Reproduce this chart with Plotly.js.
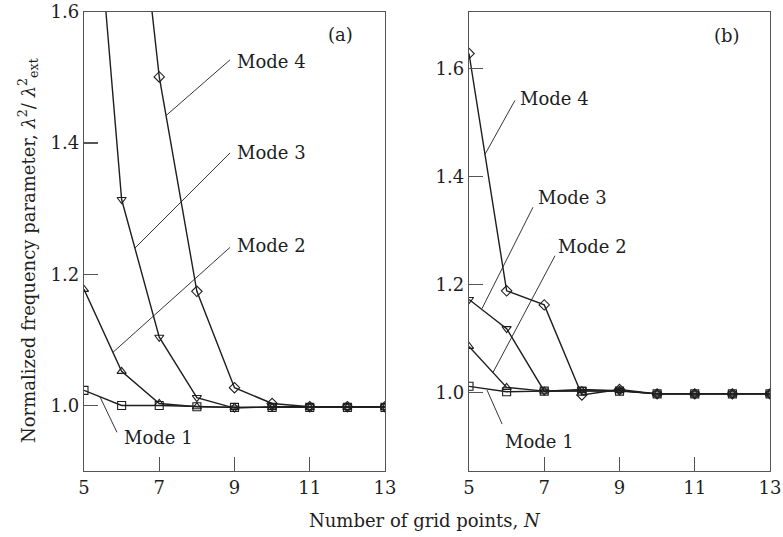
<!DOCTYPE html>
<html><head><meta charset="utf-8">
<script src="https://cdn.plot.ly/plotly-3.0.1.min.js"></script>
<style>html,body{margin:0;padding:0;background:#fff}#plot{width:783px;height:537px}</style>
</head><body><div id="plot"></div>
<script>
// Grid points N
const N = [5, 6, 7, 8, 9, 10, 11, 12, 13];
// Panel (a) normalized frequency parameter
const a_mode1 = [1.023, 1.000, 1.000, 0.998, 0.997, 0.997, 0.997, 0.997, 0.997];
const a_mode2 = [1.177, 1.052, 1.003, 0.998, 0.997, 0.997, 0.997, 0.997, 0.997];
const a_mode3 = [2.000, 1.314, 1.104, 1.012, 0.996, 0.998, 0.998, 0.998, 0.998];
const a_mode4 = [2.600, 2.020, 1.501, 1.174, 1.027, 1.003, 0.998, 0.998, 0.998];
// Panel (b)
const b_mode1 = [1.011, 1.001, 1.002, 1.002, 1.002, 0.997, 0.997, 0.997, 0.997];
const b_mode2 = [1.085, 1.009, 1.002, 1.003, 1.003, 0.997, 0.997, 0.997, 0.997];
const b_mode3 = [1.172, 1.118, 1.002, 1.005, 1.003, 0.997, 0.997, 0.997, 0.997];
const b_mode4 = [1.628, 1.188, 1.162, 0.995, 1.005, 0.997, 0.997, 0.997, 0.997];
const modeNames = ['Mode 1', 'Mode 2', 'Mode 3', 'Mode 4'];
const symbols = ['square-open', 'triangle-up-open', 'triangle-down-open', 'diamond-open'];
const xTicks = [5, 7, 9, 11, 13];
const yTicks = [1.0, 1.2, 1.4, 1.6];

const FONT = 'DejaVu Serif, serif';
const INK = '#1e1e1e';

function series(ys, i, xa, ya) {
  return {
    x: N, y: ys, xaxis: xa, yaxis: ya, mode: 'lines+markers', name: modeNames[i],
    line: {color: INK, width: 1.4},
    marker: {symbol: symbols[i], size: 8, color: INK, line: {width: 1.1, color: INK}},
    showlegend: false, cliponaxis: true
  };
}
const traces = [];
[a_mode1, a_mode2, a_mode3, a_mode4].forEach((d, i) => traces.push(series(d, i, 'x', 'y')));
[b_mode1, b_mode2, b_mode3, b_mode4].forEach((d, i) => traces.push(series(d, i, 'x2', 'y2')));

const yDom = [1 - 471 / 537, 1 - 12 / 537];
function xax(dom, anchor) {
  return {domain: dom, range: [5, 13], anchor: anchor, tickvals: xTicks, ticktext: xTicks.map(String),
    ticks: 'inside', ticklen: 14, tickwidth: 1.3, tickcolor: '#555',
    showline: true, mirror: true, linecolor: '#555', linewidth: 1.3,
    showgrid: false, zeroline: false, fixedrange: true,
    tickfont: {family: FONT, size: 18, color: INK}};
}
function yax(range, anchor) {
  return {domain: yDom, range: range, anchor: anchor, tickvals: yTicks, ticktext: yTicks.map(v => v.toFixed(1)),
    ticks: 'inside', ticklen: 14, tickwidth: 1.3, tickcolor: '#555',
    showline: true, mirror: true, linecolor: '#555', linewidth: 1.3,
    showgrid: false, zeroline: false, fixedrange: true,
    tickfont: {family: FONT, size: 18, color: INK}};
}

// leader lines [xref, yref, x0, y0, x1, y1]
const leaders = [
  ['x', 'y', 7.18, 1.442, 8.88, 1.527],
  ['x', 'y', 6.355, 1.240, 8.88, 1.385],
  ['x', 'y', 5.77, 1.081, 8.88, 1.241],
  ['x', 'y', 5.425, 1.013, 5.876, 0.959],
  ['x2', 'y2', 5.425, 1.441, 6.22, 1.541],
  ['x2', 'y2', 5.345, 1.155, 6.70, 1.343],
  ['x2', 'y2', 5.64, 1.037, 7.285, 1.253],
  ['x2', 'y2', 5.48, 1.004, 5.88, 0.941]
];
const shapes = leaders.map(l => ({type: 'line', xref: l[0], yref: l[1], x0: l[2], y0: l[3], x1: l[4], y1: l[5],
  line: {color: INK, width: 0.9}}));

const labels = [
  ['x', 'y', 9.01, 1.524, 'Mode 4'],
  ['x', 'y', 9.01, 1.385, 'Mode 3'],
  ['x', 'y', 9.01, 1.244, 'Mode 2'],
  ['x', 'y', 6.01, 0.951, 'Mode 1'],
  ['x2', 'y2', 6.30, 1.545, 'Mode 4'],
  ['x2', 'y2', 6.78, 1.362, 'Mode 3'],
  ['x2', 'y2', 7.31, 1.270, 'Mode 2'],
  ['x2', 'y2', 5.90, 0.9095, 'Mode 1']
];
const annotations = labels.map(l => ({xref: l[0], yref: l[1], x: l[2], y: l[3], text: l[4], showarrow: false,
  xanchor: 'left', yanchor: 'middle', font: {family: FONT, size: 18, color: INK}}));
annotations.push({xref: 'x', yref: 'y', x: 11.83, y: 1.565, text: '(a)', showarrow: false,
  xanchor: 'center', yanchor: 'middle', font: {family: FONT, size: 18, color: INK}});
annotations.push({xref: 'x2', yref: 'y2', x: 11.86, y: 1.661, text: '(b)', showarrow: false,
  xanchor: 'center', yanchor: 'middle', font: {family: FONT, size: 18, color: INK}});
annotations.push({xref: 'paper', yref: 'paper', x: 425 / 783, y: 1 - 520 / 537, text: 'Number of grid points, <i>N</i>',
  xanchor: 'center', yanchor: 'middle', showarrow: false, font: {family: FONT, size: 18, color: INK}});
annotations.push({xref: 'paper', yref: 'paper', x: 28 / 783, y: 1 - 251 / 537, textangle: -90,
  xanchor: 'center', yanchor: 'middle',
  text: 'Normalized frequency parameter, <i>λ</i><sup>2</sup>/ <i>λ</i><sup>2</sup><sub>ext</sub>',
  showarrow: false, font: {family: FONT, size: 18, color: INK}});

const layout = {
  width: 783, height: 537, margin: {l: 0, r: 0, t: 0, b: 0},
  paper_bgcolor: '#fff', plot_bgcolor: '#fff',
  xaxis: xax([84 / 783, 385 / 783], 'y'),
  yaxis: yax([0.9, 1.6], 'x'),
  xaxis2: xax([469 / 783, 770 / 783], 'y2'),
  yaxis2: yax([0.854, 1.705], 'x2'),
  shapes: shapes, annotations: annotations, showlegend: false
};
Plotly.newPlot('plot', traces, layout, {staticPlot: true, displayModeBar: false});
</script></body></html>
